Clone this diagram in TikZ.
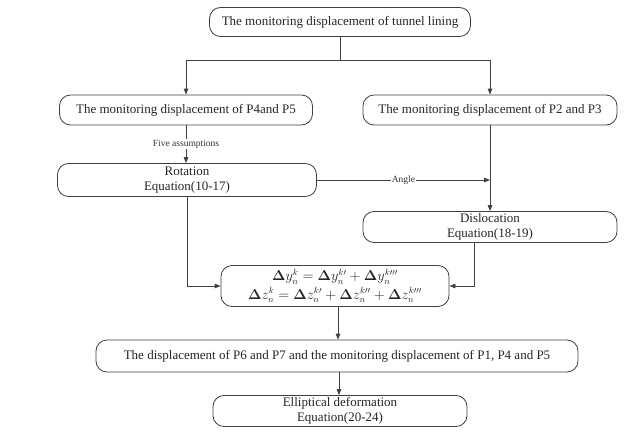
\documentclass[tikz,border=0pt]{standalone}
\usepackage{amsmath}
\usepackage{fontspec}
\setmainfont{Liberation Serif}
\usetikzlibrary{arrows.meta, calc}

\begin{document}
\begin{tikzpicture}[x=1pt, y=-1pt,
    box/.style={draw=black!75, line width=0.8pt, rounded corners=11pt, fill=white,
      align=center, inner sep=0pt, font=\fontsize{13}{15}\selectfont, text=black!85},
    link/.style={draw=black!75, line width=0.8pt},
    arr/.style={link, -{Triangle[length=6pt, width=4.5pt]}},
    lbl/.style={fill=white, inner sep=1pt, font=\fontsize{9.5}{11}\selectfont, text=black!80}]
    \useasboundingbox (0,0) rectangle (641,447);
    % Boxes
    \node[box, minimum width=261, minimum height=29] (lining) at (340,22) {The monitoring displacement of tunnel lining};
    \node[box, minimum width=253, minimum height=30] (pfour) at (186,110) {The monitoring displacement of P4and P5};
    \node[box, minimum width=254, minimum height=30] (ptwo) at (490,110) {The monitoring displacement of P2 and P3};
    \node[box, minimum width=259, minimum height=33] (rot) at (187,180) {Rotation\\Equation(10-17)};
    \node[box, minimum width=254, minimum height=31] (disloc) at (490,227) {Dislocation\\Equation(18-19)};
    \node[box, minimum width=228, minimum height=41, font=\fontsize{13.5}{18.5}\selectfont] (eq) at (335,286)
        {$\boldsymbol{\Delta} y_n^k = \boldsymbol{\Delta} y_n^{k\prime} + \boldsymbol{\Delta} y_n^{k\prime\prime\prime}$\\
         $\boldsymbol{\Delta} z_n^k = \boldsymbol{\Delta} z_n^{k\prime} + \boldsymbol{\Delta} z_n^{k\prime\prime} + \boldsymbol{\Delta} z_n^{k\prime\prime\prime}$};
    \node[box, minimum width=482, minimum height=32] (psix) at (337,356) {The displacement of P6 and P7 and the monitoring displacement of P1, P4 and P5};
    \node[box, minimum width=254, minimum height=31] (ellip) at (340,411) {Elliptical deformation\\Equation(20-24)};
    % Split below the top box
    \coordinate (split) at ($(lining.south)+(0,23)$);
    \draw[link] (lining.south) -- (split);
    \draw[arr] (split) -| (pfour.north);
    \draw[arr] (split) -| (ptwo.north);
    % Left branch
    \draw[arr] (pfour.south) -- (pfour.south |- rot.north) node[lbl, midway] {Five assumptions};
    \draw[arr] (rot.east) -- (rot.east -| ptwo.south) node[lbl, midway] {Angle};
    \draw[arr] (rot.south) |- (eq.west);
    % Right branch
    \draw[arr] (ptwo.south) -- (disloc.north);
    \draw[arr] ([xshift=-16pt]disloc.south) |- (eq.east);
    % Bottom
    \draw[arr] ([xshift=3pt]eq.south) -- ([xshift=3pt]eq.south |- psix.north);
    \draw[arr] ([xshift=2pt]psix.south) -- ([xshift=2pt]psix.south |- ellip.north);
\end{tikzpicture}
\end{document}
